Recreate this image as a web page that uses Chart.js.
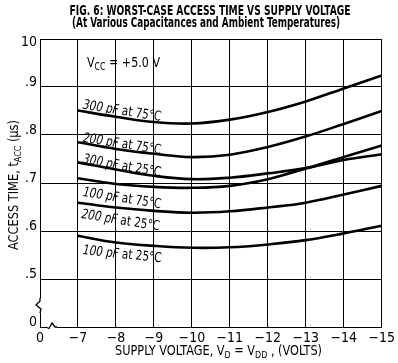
<!DOCTYPE html>
<html>
<head>
<meta charset="utf-8">
<script src="https://cdn.jsdelivr.net/npm/chart.js@4.4.1/dist/chart.umd.min.js"></script>
<style>
  html, body { margin: 0; padding: 0; background: #fff; }
  #wrap { width: 398px; height: 363px; }
</style>
</head>
<body>
<div id="wrap"><canvas id="c" width="398" height="363"></canvas></div>
<script>
// ---- data ----
const supplyVoltage = [-7, -8, -9, -10, -11, -12, -13, -14, -15];
const pf300at75 = [0.851, 0.838, 0.827, 0.824, 0.832, 0.848, 0.870, 0.897, 0.924];
const pf200at75 = [0.785, 0.771, 0.761, 0.754, 0.759, 0.775, 0.797, 0.823, 0.850];
const pf300at25 = [0.743, 0.728, 0.715, 0.708, 0.711, 0.720, 0.731, 0.748, 0.760];
const pf100at75 = [0.710, 0.698, 0.692, 0.690, 0.694, 0.708, 0.730, 0.754, 0.778];
const pf200at25 = [0.659, 0.649, 0.642, 0.638, 0.641, 0.649, 0.659, 0.676, 0.694];
const pf100at25 = [0.590, 0.576, 0.569, 0.565, 0.566, 0.572, 0.581, 0.595, 0.611];

const seriesNames = ["300 pF at 75°C", "200 pF at 75°C", "300 pF at 25°C",
                     "100 pF at 75°C", "200 pF at 25°C", "100 pF at 25°C"];
const seriesValues = [pf300at75, pf200at75, pf300at25, pf100at75, pf200at25, pf100at25];

const xTickValues = [-6, -7, -8, -9, -10, -11, -12, -13, -14, -15];
const xTickLabels = ["0", "\u22127", "\u22128", "\u22129", "\u221210", "\u221211", "\u221212", "\u221213", "\u221214", "\u221215"];
const yTickValues = [0.4, 0.5, 0.6, 0.7, 0.8, 0.9, 1.0];
const yTickLabels = ["0", ".5", ".6", ".7", ".8", ".9", "10"];

const titleLine1 = "FIG. 6: WORST-CASE ACCESS TIME VS SUPPLY VOLTAGE";
const titleLine2 = "(At Various Capacitances and Ambient Temperatures)";

// ---- presentation ----
const FAM = "'Liberation Sans Narrow', 'DejaVu Sans Condensed', 'Arial Narrow', sans-serif";

// label placement (data units) for the curve names
const curveLabelPlacement = [
  { x: -7.12, y: 0.855, rot: 9 },
  { x: -7.12, y: 0.786, rot: 9 },
  { x: -7.12, y: 0.742, rot: 10 },
  { x: -7.12, y: 0.673, rot: 9 },
  { x: -7.08, y: 0.627, rot: 9 },
  { x: -7.12, y: 0.552, rot: 6 }
];

function drawRich(ctx, parts, x, y, size, opts) {
  opts = opts || {};
  const weight = opts.weight || "normal";
  ctx.save();
  let total = 0;
  const widths = parts.map(p => {
    const fs = p.sub ? size * 0.7 : size;
    ctx.font = (p.italic ? "italic " : "") + weight + " " + fs + "px " + FAM;
    const w = ctx.measureText(p.t).width;
    total += w;
    return w;
  });
  ctx.translate(x, y);
  if (opts.rot) ctx.rotate(opts.rot);
  let sx = 1;
  if (opts.width) sx = opts.width / total;
  let start = 0;
  if (opts.align === "center") start = -total * sx / 2;
  ctx.translate(start, 0);
  ctx.scale(sx, 1);
  ctx.fillStyle = "#000";
  ctx.textBaseline = "alphabetic";
  ctx.textAlign = "left";
  let cx = 0;
  parts.forEach((p, i) => {
    const fs = p.sub ? size * 0.7 : size;
    ctx.font = (p.italic ? "italic " : "") + weight + " " + fs + "px " + FAM;
    ctx.fillText(p.t, cx, p.sub ? size * 0.22 : 0);
    cx += widths[i];
  });
  ctx.restore();
}

const decor = {
  id: "decor",
  afterDraw(chart) {
    const ctx = chart.ctx;
    const xs = chart.scales.x, ys = chart.scales.y;
    // title
    drawRich(ctx, [{ t: titleLine1 }], 210, 15, 13.5, { weight: "bold", width: 281, align: "center" });
    drawRich(ctx, [{ t: titleLine2 }], 206, 26.5, 13.5, { weight: "bold", width: 268, align: "center" });
    // axis titles
    drawRich(ctx, [{ t: "ACCESS TIME, t" }, { t: "ACC", sub: true }, { t: " (\u00b5s)" }],
      18, 185, 13.5, { rot: -Math.PI / 2, width: 130, align: "center" });
    drawRich(ctx, [{ t: "SUPPLY VOLTAGE, V" }, { t: "D", sub: true }, { t: " = V" }, { t: "DD", sub: true }, { t: " , (VOLTS)" }],
      218.5, 355, 13.5, { width: 207, align: "center" });
    // Vcc note
    drawRich(ctx, [{ t: "V" }, { t: "CC", sub: true }, { t: " = +5.0 V" }],
      87, 67, 14.5, { width: 73 });
    // curve labels
    seriesNames.forEach((name, i) => {
      const pl = curveLabelPlacement[i];
      const m = name.match(/^(\d+ pF)(.*)$/);
      drawRich(ctx, [{ t: m[1], italic: true }, { t: m[2] }],
        xs.getPixelForValue(pl.x), ys.getPixelForValue(pl.y), 13.5,
        { rot: pl.rot * Math.PI / 180, width: 79 });
    });
    // axis breaks
    const L = chart.chartArea.left, B = chart.chartArea.bottom;
    ctx.save();
    ctx.fillStyle = "#fff";
    ctx.fillRect(L - 3, 298, 6, 15);
    ctx.fillRect(L + 6, B - 3, 11, 6);
    ctx.strokeStyle = "#000";
    ctx.lineWidth = 1.3;
    ctx.beginPath();
    ctx.moveTo(L, 298); ctx.lineTo(L, 301); ctx.lineTo(L - 4, 305); ctx.lineTo(L + 1, 309); ctx.lineTo(L, 313);
    ctx.stroke();
    ctx.beginPath();
    ctx.moveTo(L + 6, B); ctx.lineTo(L + 9, B + 1.5); ctx.lineTo(L + 12, B - 4); ctx.lineTo(L + 15, B); ctx.lineTo(L + 17, B);
    ctx.stroke();
    ctx.restore();
  }
};

const datasets = seriesValues.map((vals, i) => ({
  label: seriesNames[i],
  data: supplyVoltage.map((v, j) => ({ x: v, y: vals[j] })),
  borderColor: "#000",
  borderWidth: 2.6,
  pointRadius: 0,
  fill: false,
  tension: 0.4
}));

new Chart(document.getElementById("c"), {
  type: "line",
  data: { datasets },
  options: {
    responsive: false,
    animation: false,
    devicePixelRatio: 1,
    layout: { padding: { top: 39, right: 12, left: 0, bottom: 0 } },
    plugins: { legend: { display: false }, title: { display: false }, tooltip: { enabled: false } },
    scales: {
      x: {
        type: "linear",
        min: -15, max: -6,
        reverse: true,
        afterBuildTicks: s => { s.ticks = xTickValues.map(v => ({ value: v })); },
        afterFit: s => { s.height = 36; },
        grid: { color: "#000", lineWidth: 1, drawTicks: false },
        border: { display: true, color: "#000", width: 1 },
        ticks: {
          padding: 3,
          color: "#000",
          font: { family: FAM, size: 14 },
          maxRotation: 0,
          autoSkip: false,
          callback: v => { const k = xTickValues.indexOf(v); return k >= 0 ? xTickLabels[k] : ""; }
        }
      },
      y: {
        type: "linear",
        min: 0.4, max: 1.0,
        afterBuildTicks: s => { s.ticks = yTickValues.map(v => ({ value: v })); },
        afterFit: s => { s.width = 40; },
        grid: { color: "#000", lineWidth: 1, drawTicks: false },
        border: { display: true, color: "#000", width: 1 },
        ticks: {
          padding: 3,
          labelOffset: -5,
          color: "#000",
          font: { family: FAM, size: 14 },
          autoSkip: false,
          callback: v => {
            const k = yTickValues.findIndex(t => Math.abs(t - v) < 1e-6);
            if (k < 0) return "";
            return k === yTickValues.length - 1 ? ["", yTickLabels[k]] : yTickLabels[k];
          }
        }
      }
    }
  },
  plugins: [decor]
});
</script>
</body>
</html>
